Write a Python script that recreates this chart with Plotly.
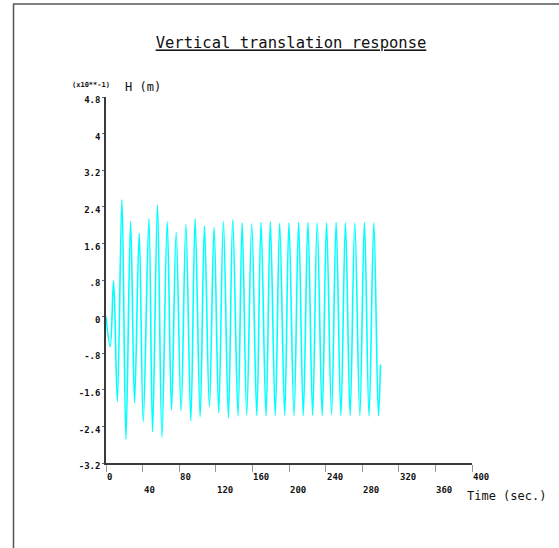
import plotly.graph_objects as go

# ---- data ----
time_s = [0, 4.6, 8.3, 12.4, 17.4, 21.8, 26.9, 31.2, 36.3, 40.7, 46.9, 50.9, 56.3, 61.1,
          66.9, 71.6, 76.7, 82.1, 87.3, 92.7, 97.4, 102.9, 107.6, 113.0, 118.1, 123.2,
          128.3, 133.8, 138.5, 144.3, 148.8, 153.8, 159.3, 164.8, 169.4, 174.9, 179.6,
          185.0, 189.8, 195.3, 199.9, 205.5, 210.5, 215.6, 220.7, 225.8, 230.8, 236.3,
          241.0, 246.5, 251.5, 256.7, 261.7, 266.8, 271.9, 277.4, 282.4, 287.5, 292.7,
          297.7, 300.0]
h_x10 = [0, -0.66, 0.78, -1.86, 2.56, -2.68, 2.08, -1.88, 1.82, -2.30, 2.14, -2.52, 2.44,
         -2.64, 2.07, -2.04, 1.84, -2.06, 2.02, -2.28, 2.14, -2.19, 1.98, -1.97, 1.95,
         -2.10, 2.08, -2.21, 2.12, -2.17, 2.05, -2.15, 2.03, -2.16, 2.06, -2.17, 2.07,
         -2.16, 2.04, -2.16, 2.05, -2.17, 2.06, -2.16, 2.06, -2.16, 2.05, -2.16, 2.05,
         -2.15, 2.06, -2.16, 2.05, -2.16, 2.05, -2.17, 2.06, -2.17, 2.05, -2.17, -1.05]

y_tick_vals = [4.8, 4.0, 3.2, 2.4, 1.6, 0.8, 0, -0.8, -1.6, -2.4, -3.2]
y_tick_text = ["4.8", "4", "3.2", "2.4", "1.6", ".8", "0", "-.8", "-1.6", "-2.4", "-3.2"]
x_tick_vals = [0, 40, 80, 120, 160, 200, 240, 280, 320, 360, 400]
x_tick_text = ["0", "40", "80", "120", "160", "200", "240", "280", "320", "360", "400"]

title_text = "Vertical translation response"
y_unit_text = "(x10**-1)"
y_label_text = "H (m)"
x_label_text = "Time (sec.)"

# ---- layout constants ----
W, H = 559, 548
ML, MR, MT, MB = 106, 87, 97, 85
PW, PH = W - ML - MR, H - MT - MB
MONO = "DejaVu Sans Mono"
AXC = "#3a3a3a"


def px_x(px):
    return (px - ML) / PW


def px_y(py):
    return (H - MB - py) / PH


fig = go.Figure()
fig.add_trace(go.Scatter(x=time_s, y=h_x10, mode="lines",
                         line=dict(color="#00FFFF", width=1.6, shape="spline", smoothing=1.0),
                         hoverinfo="skip", showlegend=False))

annotations = []
for i, (v, t) in enumerate(zip(x_tick_vals, x_tick_text)):
    annotations.append(dict(x=v, y=0, xref="x", yref="paper", text=t, showarrow=False,
                            xanchor="left", yanchor="middle",
                            yshift=-14 if i % 2 == 0 else -27, xshift=-1,
                            font=dict(family=MONO, size=9, color="#111", weight="bold")))

annotations += [
    dict(x=px_x(70), y=px_y(85), xref="paper", yref="paper", text=y_unit_text,
         showarrow=False, xanchor="left", yanchor="middle",
         font=dict(family=MONO, size=7, color="#111", weight="bold")),
    dict(x=px_x(123), y=px_y(87), xref="paper", yref="paper", text=y_label_text,
         showarrow=False, xanchor="left", yanchor="middle",
         font=dict(family=MONO, size=12, color="#111")),
    dict(x=px_x(465), y=px_y(496), xref="paper", yref="paper", text=x_label_text,
         showarrow=False, xanchor="left", yanchor="middle",
         font=dict(family=MONO, size=12, color="#111")),
]

shapes = [
    dict(type="line", xref="paper", yref="paper", x0=px_x(13.5), x1=px_x(13.5),
         y0=px_y(4), y1=px_y(H + 2), line=dict(color="#555", width=1.5)),
    dict(type="line", xref="paper", yref="paper", x0=px_x(13), x1=px_x(W + 2),
         y0=px_y(4), y1=px_y(4), line=dict(color="#555", width=1.5)),
]

fig.update_layout(
    width=W, height=H,
    margin=dict(l=ML, r=MR, t=MT, b=MB),
    paper_bgcolor="white", plot_bgcolor="white",
    title=dict(text=title_text, x=px_x(291), xref="paper", xanchor="center",
               y=1 - 43 / H, yref="container", yanchor="middle",
               font=dict(family=MONO, size=15.5, color="#111", lineposition="under")),
    xaxis=dict(range=[0, 400], showgrid=False, zeroline=False, showline=True,
               linecolor=AXC, linewidth=1.5, ticks="outside", ticklen=7, tickwidth=1,
               tickcolor="#999", tickvals=x_tick_vals, showticklabels=False,
               fixedrange=True),
    yaxis=dict(range=[-3.2, 4.8], showgrid=False, zeroline=False, showline=True,
               linecolor=AXC, linewidth=1.5, ticks="outside", ticklen=2, tickwidth=1,
               tickcolor="#666", tickvals=y_tick_vals, ticktext=y_tick_text,
               ticklabelshift=3,
               tickfont=dict(family=MONO, size=9, color="#111", weight="bold"),
               fixedrange=True),
    annotations=annotations,
    shapes=shapes,
)

fig.write_html("out.html")
